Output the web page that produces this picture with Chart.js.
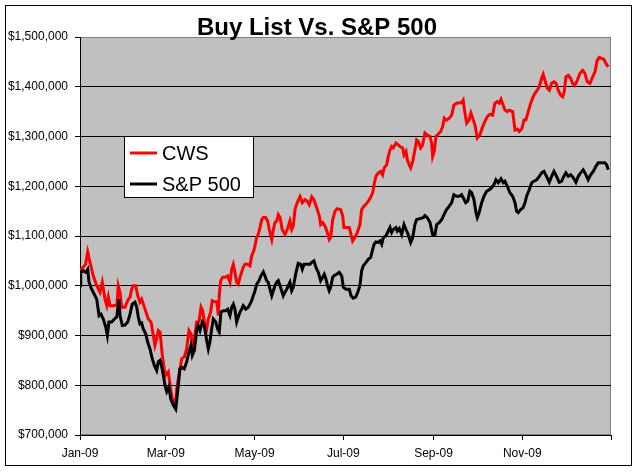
<!DOCTYPE html>
<html>
<head>
<meta charset="utf-8">
<script src="https://cdn.jsdelivr.net/npm/chart.js@4.4.1/dist/chart.umd.min.js"></script>
<style>
  html, body { margin: 0; padding: 0; background: #fff; }
</style>
</head>
<body>
<canvas id="buyList" width="637" height="472"></canvas>
<script>
// x axis: day of 2009 (0 = Jan 1)
const monthTicks = [0, 59, 120, 181, 243, 304, 365];
const monthLabels = ['Jan-09', 'Mar-09', 'May-09', 'Jul-09', 'Sep-09', 'Nov-09', ''];
const chartTitle = 'Buy List Vs. S&P 500';
const seriesNames = ['CWS', 'S&P 500'];

const cwsDays = [0, 2.1, 3.8, 5.3, 6.9, 9.1, 11.5, 13.7, 15.3, 17.2, 18.4, 19.5, 20.6, 23.4, 25.4, 26.3, 27.5, 28.7, 30.9, 33.2,
  34.4, 35.5, 36.6, 38.3, 39.7, 41.2, 42.4, 44.7, 46.9, 48.8, 50.4, 51.5, 52.7, 53.8, 55.0, 55.7, 56.6, 57.9, 58.9, 60.7,
  61.9, 63.4, 64.8, 65.6, 66.5, 67.6, 69.9, 71.7, 73.3, 74.9, 76.3, 77.2, 78.6, 80.2, 81.8, 83.2, 84.3, 85.9, 87.1, 88.2,
  89.8, 90.9, 92.3, 94.0, 95.1, 95.7, 96.7, 98.1, 100.1, 101.5, 103.1, 104.3, 105.4, 106.5, 107.7, 108.8, 110.0, 111.1, 112.2, 113.4,
  115.3, 116.8, 118.0, 119.4, 120.3, 121.4, 122.5, 123.7, 124.9, 126.0, 127.6, 129.0, 130.1, 131.8, 132.9, 134.0, 135.2, 136.3, 137.5, 139.0,
  140.9, 142.5, 144.3, 145.5, 146.6, 147.8, 149.3, 151.2, 152.8, 154.6, 156.2, 157.6, 159.3, 160.8, 162.7, 164.5, 165.4, 166.8, 168.4, 170.0,
  171.3, 172.3, 173.7, 175.3, 176.8, 179.2, 180.6, 181.4, 183.3, 185.1, 186.3, 187.4, 189.0, 190.6, 192.4, 193.6, 195.2, 197.5, 199.3, 201.2,
  202.1, 203.4, 205.0, 206.7, 208.0, 209.1, 210.8, 211.9, 213.1, 214.2, 215.3, 217.2, 218.8, 219.9, 221.8, 222.7, 224.1, 225.0, 226.3, 227.3,
  228.7, 230.2, 231.4, 232.5, 234.2, 235.5, 237.1, 238.7, 240.6, 241.7, 242.4, 243.5, 244.7, 246.3, 247.9, 249.3, 250.4, 252.0, 253.8, 255.5,
  257.0, 258.9, 260.7, 262.3, 263.4, 264.6, 265.8, 267.4, 268.7, 269.9, 271.5, 273.1, 274.9, 276.8, 278.3, 279.9, 281.8, 283.6, 285.2, 286.8,
  288.2, 289.4, 290.9, 292.1, 293.7, 295.1, 297.4, 299.0, 300.6, 301.9, 303.6, 305.2, 306.5, 308.1, 309.8, 311.1, 312.7, 314.3, 315.7, 317.3,
  318.4, 319.6, 321.2, 322.6, 324.2, 325.8, 327.2, 328.7, 330.4, 331.8, 332.9, 334.0, 335.6, 337.3, 338.6, 340.2, 341.8, 343.7, 345.5, 347.1,
  348.7, 350.5, 352.4, 354.0, 355.5, 356.9, 358.6, 360.1, 361.5, 363.1];
const cwsValues = [1030000, 1037000, 1043000, 1068000, 1047000, 1020000, 1000000, 987000, 1007000, 973000, 960000, 977000, 960000, 960000, 962000, 1000000, 987000, 957000, 957000, 973000,
  977000, 993000, 1000000, 1000000, 980000, 967000, 973000, 953000, 933000, 927000, 900000, 880000, 893000, 910000, 907000, 887000, 860000, 833000, 820000, 827000,
  800000, 773000, 767000, 760000, 793000, 813000, 853000, 857000, 873000, 910000, 903000, 880000, 893000, 927000, 928000, 957000, 950000, 920000, 913000, 933000,
  947000, 970000, 968000, 968000, 940000, 980000, 1010000, 1017000, 1017000, 1020000, 1007000, 1033000, 1043000, 1027000, 1007000, 1003000, 1017000, 1027000, 1037000, 1043000,
  1043000, 1040000, 1060000, 1070000, 1080000, 1097000, 1103000, 1117000, 1133000, 1137000, 1137000, 1130000, 1113000, 1093000, 1113000, 1127000, 1130000, 1143000, 1137000, 1113000,
  1103000, 1113000, 1130000, 1113000, 1120000, 1153000, 1167000, 1179000, 1167000, 1173000, 1170000, 1163000, 1179000, 1173000, 1157000, 1140000, 1123000, 1127000, 1120000, 1107000,
  1093000, 1097000, 1133000, 1150000, 1155000, 1153000, 1140000, 1117000, 1117000, 1117000, 1103000, 1090000, 1097000, 1107000, 1123000, 1153000, 1160000, 1167000, 1175000, 1187000,
  1203000, 1220000, 1227000, 1230000, 1223000, 1237000, 1243000, 1260000, 1273000, 1280000, 1277000, 1287000, 1283000, 1280000, 1277000, 1263000, 1270000, 1253000, 1243000, 1237000,
  1250000, 1273000, 1293000, 1290000, 1277000, 1283000, 1307000, 1303000, 1300000, 1287000, 1260000, 1270000, 1300000, 1305000, 1310000, 1320000, 1337000, 1333000, 1337000, 1343000,
  1363000, 1367000, 1368000, 1368000, 1373000, 1347000, 1327000, 1333000, 1347000, 1337000, 1323000, 1297000, 1303000, 1320000, 1330000, 1340000, 1345000, 1343000, 1367000, 1370000,
  1367000, 1375000, 1363000, 1353000, 1350000, 1353000, 1350000, 1313000, 1315000, 1310000, 1315000, 1333000, 1333000, 1350000, 1367000, 1377000, 1387000, 1393000, 1400000, 1417000,
  1425000, 1413000, 1397000, 1393000, 1407000, 1410000, 1407000, 1393000, 1383000, 1380000, 1390000, 1420000, 1423000, 1417000, 1407000, 1403000, 1413000, 1427000, 1433000, 1427000,
  1410000, 1407000, 1420000, 1430000, 1453000, 1459000, 1457000, 1455000, 1447000, 1440000];

const spDays = [0, 0.5, 2.3, 3.9, 5.3, 6.2, 8.0, 9.8, 11.5, 13.1, 14.4, 16.0, 17.7, 18.8, 19.9, 21.8, 23.6, 25.2, 26.8, 27.5,
  29.1, 30.9, 32.8, 34.4, 35.9, 37.8, 39.0, 40.1, 41.2, 42.4, 43.5, 45.2, 46.5, 48.1, 49.7, 51.1, 52.7, 53.8, 55.0, 56.2,
  57.3, 58.4, 59.6, 61.2, 62.3, 64.1, 65.8, 67.1, 68.7, 69.9, 71.7, 73.3, 74.9, 76.3, 77.2, 78.6, 80.2, 81.3, 82.5, 84.1,
  85.4, 87.1, 88.2, 89.3, 90.5, 91.6, 93.3, 94.6, 95.7, 96.9, 98.5, 100.1, 101.5, 103.1, 104.3, 105.4, 106.5, 107.7, 108.8, 110.0,
  111.1, 112.2, 113.9, 115.7, 116.8, 118.0, 119.1, 120.3, 121.4, 123.0, 124.4, 126.0, 127.1, 128.3, 129.4, 130.6, 131.8, 132.9, 134.0, 135.2,
  136.3, 137.5, 138.6, 139.7, 140.9, 142.1, 143.2, 144.3, 145.5, 146.6, 148.5, 150.0, 151.7, 152.8, 154.0, 155.8, 158.1, 159.3, 160.8, 162.2,
  163.8, 165.4, 166.8, 167.9, 169.1, 170.2, 171.3, 172.3, 173.7, 174.6, 176.4, 178.2, 179.9, 181.0, 182.8, 185.1, 186.3, 187.8, 189.5, 190.9,
  192.4, 193.6, 194.7, 196.6, 198.1, 199.8, 201.2, 202.1, 203.4, 205.0, 206.2, 207.4, 208.5, 210.3, 211.9, 213.1, 214.2, 215.3, 217.2, 218.1,
  219.5, 221.1, 222.7, 224.1, 225.6, 227.3, 228.7, 230.2, 231.4, 233.7, 235.9, 237.1, 238.7, 240.6, 242.4, 244.0, 245.2, 246.9, 248.6, 250.2,
  252.0, 253.8, 255.5, 257.0, 258.9, 260.7, 262.3, 263.4, 265.1, 266.5, 268.0, 269.2, 270.8, 272.2, 273.1, 274.4, 276.1, 277.7, 279.5, 281.3,
  283.0, 284.5, 285.9, 287.5, 289.4, 290.9, 292.1, 293.7, 295.5, 297.4, 299.0, 300.1, 301.2, 302.9, 304.6, 305.9, 307.0, 308.8, 310.5, 312.0,
  313.9, 315.7, 317.3, 318.9, 320.7, 322.6, 324.2, 325.8, 327.6, 329.4, 331.0, 332.6, 334.0, 335.6, 337.3, 339.1, 340.9, 342.5, 344.1, 345.9,
  347.8, 349.3, 351.0, 352.8, 354.6, 356.2, 358.6, 360.8, 362.0, 363.1];
const spValues = [1000000, 1027000, 1030000, 1027000, 1033000, 1007000, 993000, 983000, 973000, 940000, 943000, 933000, 917000, 900000, 927000, 927000, 933000, 937000, 973000, 940000,
  920000, 921000, 927000, 943000, 963000, 967000, 957000, 937000, 923000, 925000, 913000, 903000, 887000, 873000, 853000, 840000, 830000, 847000, 850000, 837000,
  820000, 800000, 787000, 797000, 773000, 760000, 752000, 787000, 833000, 836000, 833000, 847000, 867000, 880000, 860000, 870000, 910000, 920000, 910000, 927000,
  920000, 890000, 873000, 887000, 913000, 933000, 927000, 913000, 907000, 947000, 950000, 950000, 953000, 940000, 957000, 963000, 953000, 927000, 937000, 947000,
  953000, 960000, 953000, 957000, 963000, 970000, 980000, 990000, 1003000, 1010000, 1020000, 1028000, 1020000, 1010000, 1007000, 993000, 980000, 990000, 1000000, 1007000,
  1010000, 1000000, 990000, 980000, 987000, 993000, 1000000, 1007000, 990000, 997000, 1027000, 1045000, 1043000, 1033000, 1043000, 1043000, 1043000, 1047000, 1050000, 1037000,
  1027000, 1010000, 1017000, 1023000, 1013000, 1000000, 990000, 997000, 1017000, 1020000, 1023000, 1027000, 1020000, 997000, 993000, 993000, 980000, 975000, 977000, 987000,
  1000000, 1030000, 1040000, 1047000, 1053000, 1057000, 1073000, 1083000, 1088000, 1087000, 1090000, 1083000, 1097000, 1100000, 1110000, 1117000, 1107000, 1113000, 1117000, 1110000,
  1115000, 1103000, 1123000, 1113000, 1103000, 1087000, 1097000, 1123000, 1133000, 1135000, 1137000, 1141000, 1137000, 1127000, 1103000, 1103000, 1123000, 1127000, 1133000, 1143000,
  1153000, 1160000, 1167000, 1183000, 1180000, 1180000, 1183000, 1177000, 1167000, 1170000, 1190000, 1187000, 1173000, 1147000, 1137000, 1147000, 1167000, 1180000, 1190000, 1193000,
  1197000, 1203000, 1213000, 1207000, 1215000, 1207000, 1210000, 1200000, 1187000, 1180000, 1167000, 1150000, 1147000, 1153000, 1157000, 1167000, 1180000, 1193000, 1207000, 1210000,
  1213000, 1220000, 1227000, 1230000, 1220000, 1208000, 1220000, 1230000, 1220000, 1208000, 1210000, 1220000, 1227000, 1220000, 1223000, 1217000, 1208000, 1220000, 1227000, 1233000,
  1223000, 1213000, 1223000, 1230000, 1240000, 1247000, 1247000, 1247000, 1243000, 1233000];

const FONT = '"Liberation Sans", Arial, sans-serif';

// gray plot area, outer frame, title and the boxed legend, Excel style
const excelLook = {
  id: 'excelLook',
  beforeDraw(chart) {
    const { ctx, chartArea: a } = chart;
    ctx.save();
    ctx.fillStyle = '#fff';
    ctx.fillRect(0, 0, chart.width, chart.height);
    ctx.fillStyle = '#c0c0c0';
    ctx.fillRect(a.left, a.top, a.right - a.left, a.bottom - a.top);
    ctx.strokeStyle = '#808080';
    ctx.lineWidth = 1;
    ctx.strokeRect(a.left + 0.5, a.top + 0.5, a.right - a.left - 1, a.bottom - a.top - 1);
    ctx.restore();
  },
  afterDatasetsDraw(chart) {
    const { ctx } = chart;
    ctx.save();
    // legend box
    ctx.fillStyle = '#fff';
    ctx.fillRect(124.5, 136.5, 129, 61);
    ctx.strokeStyle = '#000';
    ctx.lineWidth = 1;
    ctx.strokeRect(124.5, 136.5, 129, 61);
    const rows = [160, 191];
    chart.data.datasets.forEach((ds, i) => {
      const y = rows[i];
      ctx.strokeStyle = ds.borderColor;
      ctx.lineWidth = 3;
      ctx.beginPath();
      ctx.moveTo(130, y - 7);
      ctx.lineTo(157, y - 7);
      ctx.stroke();
      ctx.fillStyle = '#000';
      ctx.font = '20px ' + FONT;
      ctx.textAlign = 'left';
      ctx.textBaseline = 'alphabetic';
      ctx.fillText(ds.label, 162, y);
    });
    ctx.restore();
  },
  afterDraw(chart) {
    const { ctx } = chart;
    ctx.save();
    ctx.fillStyle = '#000';
    ctx.font = 'bold 24px ' + FONT;
    ctx.textAlign = 'center';
    ctx.textBaseline = 'alphabetic';
    ctx.fillText(chartTitle, 317, 35);
    ctx.strokeStyle = '#000';
    ctx.lineWidth = 1;
    ctx.strokeRect(5.5, 5.5, 626, 460);
    ctx.restore();
  }
};

new Chart(document.getElementById('buyList'), {
  type: 'line',
  data: {
    datasets: [{
      label: seriesNames[0],
      data: cwsDays.map((d, i) => ({ x: d, y: cwsValues[i] })),
      borderColor: '#ff0000',
      borderWidth: 3,
      pointRadius: 0,
      tension: 0,
      order: 1
    },
    {
      label: seriesNames[1],
      data: spDays.map((d, i) => ({ x: d, y: spValues[i] })),
      borderColor: '#000000',
      borderWidth: 3,
      pointRadius: 0,
      tension: 0,
      order: 0
    }]
  },
  options: {
    responsive: false,
    animation: false,
    devicePixelRatio: 1,
    layout: { padding: { top: 37, right: 26, bottom: 0, left: 0 } },
    plugins: {
      legend: { display: false },
      title: { display: false },
      tooltip: { enabled: false }
    },
    scales: {
      x: {
        type: 'linear',
        min: 0,
        max: 365,
        afterBuildTicks: (scale) => { scale.ticks = monthTicks.map(v => ({ value: v })); },
        afterFit: (scale) => { scale.height = 37; },
        ticks: {
          autoSkip: false,
          maxRotation: 0,
          padding: 6,
          color: '#000',
          font: { family: FONT, size: 12 },
          callback: (v) => monthLabels[monthTicks.indexOf(v)]
        },
        grid: { drawOnChartArea: false, tickLength: 5, tickColor: '#000' },
        border: { color: '#000', width: 1 }
      },
      y: {
        min: 700000,
        max: 1500000,
        afterFit: (scale) => { scale.width = 80; },
        ticks: {
          stepSize: 100000,
          padding: 7,
          color: '#000',
          font: { family: FONT, size: 12 },
          callback: (v) => '$' + v.toLocaleString('en-US')
        },
        grid: {
          color: (c) => (c.tick && c.tick.value === 1500000) ? 'rgba(0,0,0,0)' : '#000',
          tickColor: '#000',
          tickLength: 5
        },
        border: { color: '#000', width: 1 }
      }
    }
  },
  plugins: [excelLook]
});
</script>
</body>
</html>
